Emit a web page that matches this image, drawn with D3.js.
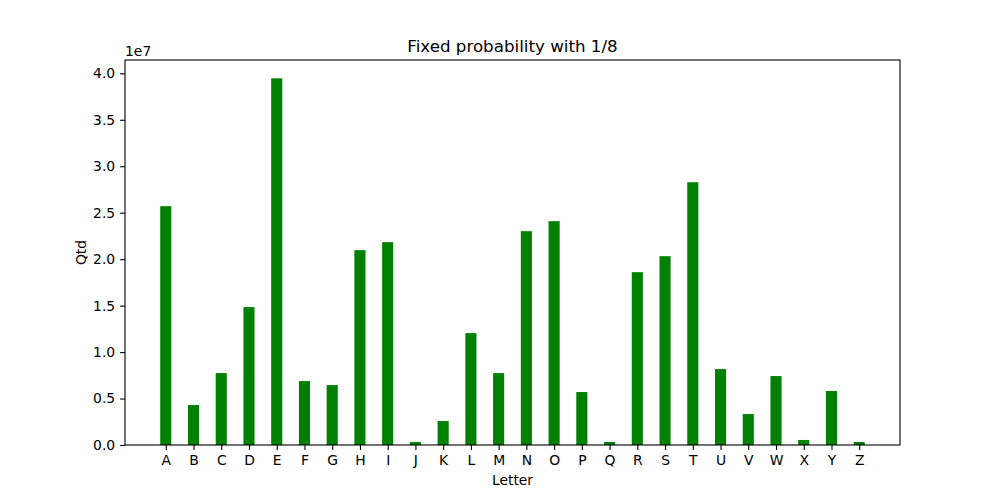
<!DOCTYPE html>
<html><head><meta charset="utf-8">
<script src="https://cdn.jsdelivr.net/npm/d3@7"></script>
<style>body{margin:0;background:#fff}svg{font-family:"DejaVu Sans",sans-serif}</style>
</head><body><svg id="c" width="1000" height="500"></svg>
<script>
const letters = ["A","B","C","D","E","F","G","H","I","J","K","L","M","N","O","P","Q","R","S","T","U","V","W","X","Y","Z"];
const counts = [25700000,4300000,7740000,14840000,39460000,6880000,6450000,20970000,21830000,320000,2580000,12040000,7740000,23010000,24090000,5700000,320000,18600000,20320000,28280000,8170000,3330000,7420000,540000,5810000,320000];
const yTicks = [0,5e6,1e7,1.5e7,2e7,2.5e7,3e7,3.5e7,4e7];
const title = "Fixed probability with 1/8";
const xLabel = "Letter", yLabel = "Qtd";

const svg = d3.select("#c");
const L=125,R=900,T=60,B=445, bw=0.4;
const n=letters.length;
const span=(n-1)+bw, pad=span*0.05;
const x=d3.scaleLinear().domain([-bw/2-pad,(n-1)+bw/2+pad]).range([L,R]);
const y=d3.scaleLinear().domain([0,d3.max(counts)*1.05]).range([B,T]);

svg.append("g").selectAll("rect").data(counts).join("rect")
  .attr("x",(d,i)=>x(i-bw/2)).attr("width",(d,i)=>x(i+bw/2)-x(i-bw/2))
  .attr("y",d=>y(d)).attr("height",d=>B-y(d)).attr("fill","#008000");

const fs="13.9px";
const ya=svg.append("g").attr("transform",`translate(${L},0)`)
  .call(d3.axisLeft(y).tickValues(yTicks).tickFormat(d=>(d/1e7).toFixed(1)).tickSize(4.9).tickPadding(4.9));
const xa=svg.append("g").attr("transform",`translate(0,${B})`)
  .call(d3.axisBottom(x).tickValues(d3.range(n)).tickFormat(i=>letters[i]).tickSize(4.9).tickPadding(4.9));
[ya,xa].forEach(g=>{g.select(".domain").remove();g.selectAll("line").attr("stroke","#000").attr("stroke-width",1.1);
  g.selectAll("text").attr("font-size",fs).attr("fill","#000").attr("font-family","DejaVu Sans");});

svg.append("rect").attr("x",L).attr("y",T).attr("width",R-L).attr("height",B-T)
  .attr("fill","none").attr("stroke","#000").attr("stroke-width",1.1);

svg.append("text").attr("x",L).attr("y",T-4).attr("font-size",fs).text("1e7");
svg.append("text").attr("x",(L+R)/2).attr("y",T-8).attr("text-anchor","middle").attr("font-size","16.7px").text(title);
svg.append("text").attr("x",(L+R)/2).attr("y",485).attr("text-anchor","middle").attr("font-size",fs).text(xLabel);
svg.append("text").attr("transform",`translate(86,${(T+B)/2}) rotate(-90)`).attr("text-anchor","middle").attr("font-size",fs).text(yLabel);
</script></body></html>
